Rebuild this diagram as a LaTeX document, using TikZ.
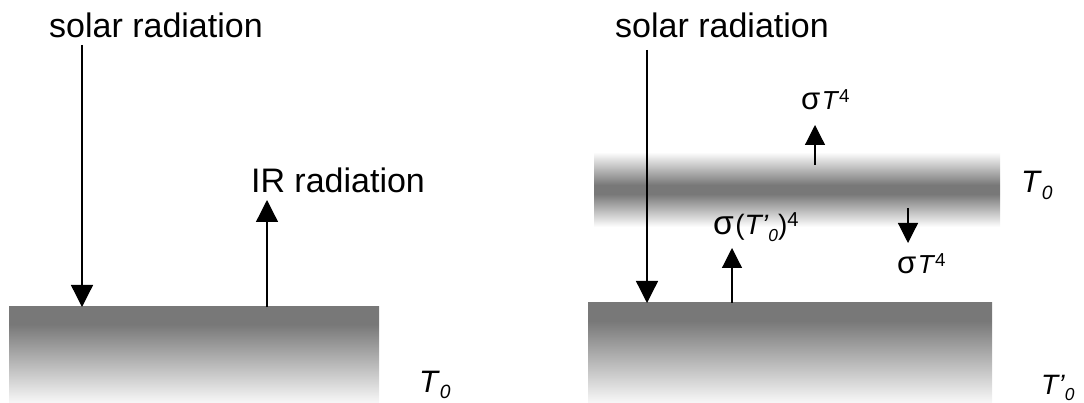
\documentclass[tikz,border=0pt]{standalone}
\usepackage{fontspec}
\setmainfont{Liberation Sans}
\usetikzlibrary{arrows.meta}
\definecolor{surfgray}{RGB}{120,120,120}
\definecolor{paleground}{RGB}{248,248,248}
% shadings: 25bp = bottom edge, 75bp = top edge of the path
\pgfdeclareverticalshading{groundshade}{100bp}{color(0bp)=(paleground); color(25bp)=(paleground); color(66bp)=(surfgray); color(100bp)=(surfgray)}
\pgfdeclareverticalshading{layershade}{100bp}{color(0bp)=(white); color(25bp)=(white); color(47bp)=(surfgray); color(53bp)=(surfgray); color(75bp)=(white); color(100bp)=(white)}
% lowered italic index, raised exponent, wide sigma
\newcommand{\lowidx}[1]{\raisebox{-0.22em}{\scalebox{0.62}{\itshape #1}}}
\newcommand{\highidx}[1]{\raisebox{0.3em}{\scalebox{0.72}{#1}}}
\newcommand{\sig}{\scalebox{1.2}{σ}\kern0.05em}

\begin{document}
\begin{tikzpicture}[
    x=1pt, y=-1pt,
    txt/.style={font=\fontsize{34}{40}\selectfont, inner sep=0pt},
    sym/.style={font=\fontsize{26}{30}\selectfont, inner sep=0pt, anchor=base west},
    tmp/.style={font=\fontsize{31}{36}\selectfont, inner sep=0pt, anchor=base west},
    ground/.style={shade, shading=groundshade, inner sep=0pt, outer sep=0pt},
    layer/.style={shade, shading=layershade, inner sep=0pt, outer sep=0pt},
    ray/.style={-{Triangle[width=22pt,length=22pt]}, line width=1.3pt},
    flux/.style={-{Triangle[width=20pt,length=20pt]}, line width=1.2pt},
  ]
  \useasboundingbox (0,0) rectangle (1084,403);

  % left: bare surface
  \node[ground, minimum width=370pt, minimum height=96pt] (surfL) at (194,355) {};
  \node[txt] (solarL) at (156,25) {solar radiation};
  \node[txt] (irL) at (338,180) {IR radiation};
  \node[tmp] (tempL) at (419,392) {\textit{T}\lowidx{0}};
  \coordinate (inL) at (82,45);
  \coordinate (outL) at (267,200);
  \draw[ray] (inL) -- (inL |- surfL.north);
  \draw[ray] (outL |- surfL.north) -- (outL);

  % right: surface with one absorbing layer
  \node[ground, minimum width=404pt, minimum height=100pt] (surfR) at (790,353) {};
  \node[layer, minimum width=406pt, minimum height=75pt] (atmo) at (797,189.5) {};
  \node[txt] (solarR) at (722,25) {solar radiation};
  \node[tmp] (tempA) at (1021,193) {\textit{T}\lowidx{0}};
  \node[tmp, font=\fontsize{28}{32}\selectfont] (tempR) at (1041,394) {\textit{T'}\lowidx{0}};
  \node[sym] (upA) at (801,110) {\sig\textit{T}\highidx{4}};
  \node[sym] (downA) at (897,274) {\sig\textit{T}\highidx{4}};
  \node[sym, font=\fontsize{28}{32}\selectfont] (upR) at (713,235) {\sig(\textit{T'}\lowidx{0})\highidx{4}};
  \coordinate (inR) at (647,50);
  \coordinate (outR) at (732,248);
  \coordinate (topA) at (815,165);
  \coordinate (botA) at (908,208);
  \draw[ray] (inR) -- (inR |- surfR.north);
  \draw[flux] (outR |- surfR.north) -- (outR);
  \draw[flux] (topA) -- ++(0,-40);
  \draw[flux] (botA) -- ++(0,35);
\end{tikzpicture}
\end{document}
